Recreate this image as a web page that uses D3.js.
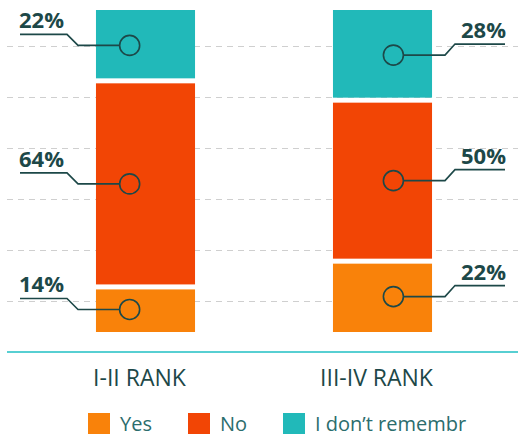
<!DOCTYPE html>
<html>
<head>
<meta charset="utf-8">
<script src="https://cdn.jsdelivr.net/npm/d3@7"></script>
<style>
  body { margin: 0; background: #fff; }
  svg { display: block; font-family: "Open Sans", "Noto Sans", sans-serif; }
</style>
</head>
<body>
<div id="chart"></div>
<script>
// Data
var categories = ['I-II RANK', 'III-IV RANK'];
var seriesNames = ['Yes', 'No', 'I don\u2019t remembr'];
var yesValues = [14, 22];
var noValues = [64, 50];
var dontRememberValues = [22, 28];
var gridTicks = [1, 2, 3, 4, 5, 6];

var width = 518,
    height = 438,
    colors = ['#f9820a', '#f24505', '#21b9b9'],
    ink = '#1d4848',
    gap = 5;

var svg = d3.select('#chart').append('svg')
    .attr('width', width)
    .attr('height', height);

// Scales
var xScale = d3.scaleBand()
    .domain(categories)
    .range([27, 501])
    .paddingInner(0.582)
    .paddingOuter(0.291);

var yScale = d3.scaleLinear()
    .domain([0, 100])
    .range([332, 10]);

var gridScale = d3.scaleLinear()
    .domain([0, 6])
    .range([352, 46]);

// Dashed grid lines
svg.append('g').attr('class', 'grid')
  .selectAll('line')
  .data(gridTicks)
  .enter().append('line')
    .attr('x1', 7)
    .attr('x2', width)
    .attr('y1', d => Math.round(gridScale(d)) + 0.5)
    .attr('y2', d => Math.round(gridScale(d)) + 0.5)
    .attr('stroke', '#cfcfcf')
    .attr('stroke-width', 1)
    .attr('stroke-dasharray', '6,5');

// Stack the series
var rows = categories.map(function(c, i) {
    return { cat: c, s0: yesValues[i], s1: noValues[i], s2: dontRememberValues[i] };
});
var stacked = d3.stack().keys(['s0', 's1', 's2'])(rows);

var segments = [];
stacked.forEach(function(layer, si) {
    layer.forEach(function(d, ci) {
        segments.push({ series: si, ci: ci, cat: d.data.cat, v0: d[0], v1: d[1], value: d.data[layer.key] });
    });
});

// Bars, with a white gap between the parts
var chartG = svg.append('g').attr('class', 'chartG');

chartG.selectAll('rect.seg')
  .data(segments)
  .enter().append('rect')
    .attr('class', 'seg')
    .attr('x', d => xScale(d.cat))
    .attr('width', xScale.bandwidth())
    .attr('y', d => yScale(d.v1) + (d.v1 < 100 ? gap / 2 : 0))
    .attr('height', function(d) {
        var top = yScale(d.v1) + (d.v1 < 100 ? gap / 2 : 0);
        var bottom = yScale(d.v0) - (d.v0 > 0 ? gap / 2 : 0);
        return bottom - top;
    })
    .attr('fill', d => colors[d.series]);

// Callout labels: left side for the first bar, right side for the second
var markerG = chartG.selectAll('g.marker')
  .data(segments)
  .enter().append('g')
    .attr('class', 'marker');

function cxOf(d) {
    var x0 = xScale(d.cat), bw = xScale.bandwidth();
    return d.ci === 0 ? x0 + bw * 0.34 : x0 + bw * 0.61;
}
function cyOf(d) {
    return (yScale(d.v0) + yScale(d.v1)) / 2;
}

markerG.append('path')
    .attr('fill', 'none')
    .attr('stroke', ink)
    .attr('stroke-width', 1.6)
    .attr('d', function(d) {
        var cx = cxOf(d), cy = cyOf(d);
        if (d.ci === 0) {
            return 'M20,' + (cy - 11) + 'H67L78,' + cy + 'H' + (cx - 10);
        }
        return 'M505,' + (cy - 11) + 'H455L445,' + cy + 'H' + (cx + 10);
    });

markerG.append('circle')
    .attr('cx', cxOf)
    .attr('cy', cyOf)
    .attr('r', 10)
    .attr('fill', 'none')
    .attr('stroke', ink)
    .attr('stroke-width', 1.6);

markerG.append('text')
    .attr('x', d => d.ci === 0 ? 19 : 506)
    .attr('y', d => cyOf(d) - 17)
    .attr('text-anchor', d => d.ci === 0 ? 'start' : 'end')
    .attr('font-size', 22)
    .attr('font-weight', 'bold')
    .attr('fill', ink)
    .text(d => d.value + '%');

// Baseline axis
var xAxis = d3.axisBottom(xScale).tickSize(0).tickPadding(18);
var axisG = svg.append('g')
    .attr('class', 'axis x')
    .attr('transform', 'translate(0,352)')
    .call(xAxis);
axisG.select('.domain').remove();
axisG.append('line')
    .attr('x1', 7)
    .attr('x2', width)
    .attr('stroke', '#1fbfc3')
    .attr('stroke-width', 1.5);
axisG.selectAll('.tick text')
    .attr('font-size', 23)
    .attr('font-family', '"Open Sans", sans-serif')
    .attr('fill', ink)
    .attr('dx', -6);

// Legend
var legendX = [88, 188, 283];
var legend = svg.append('g').attr('class', 'legend')
  .selectAll('g')
  .data(seriesNames)
  .enter().append('g')
    .attr('transform', (d, i) => 'translate(' + legendX[i] + ',413)');

legend.append('rect')
    .attr('width', 22)
    .attr('height', 21)
    .attr('fill', (d, i) => colors[i]);

legend.append('text')
    .attr('x', 32)
    .attr('y', 18)
    .attr('font-size', 20)
    .attr('fill', '#2b6d6d')
    .text(d => d);
</script>
</body>
</html>
